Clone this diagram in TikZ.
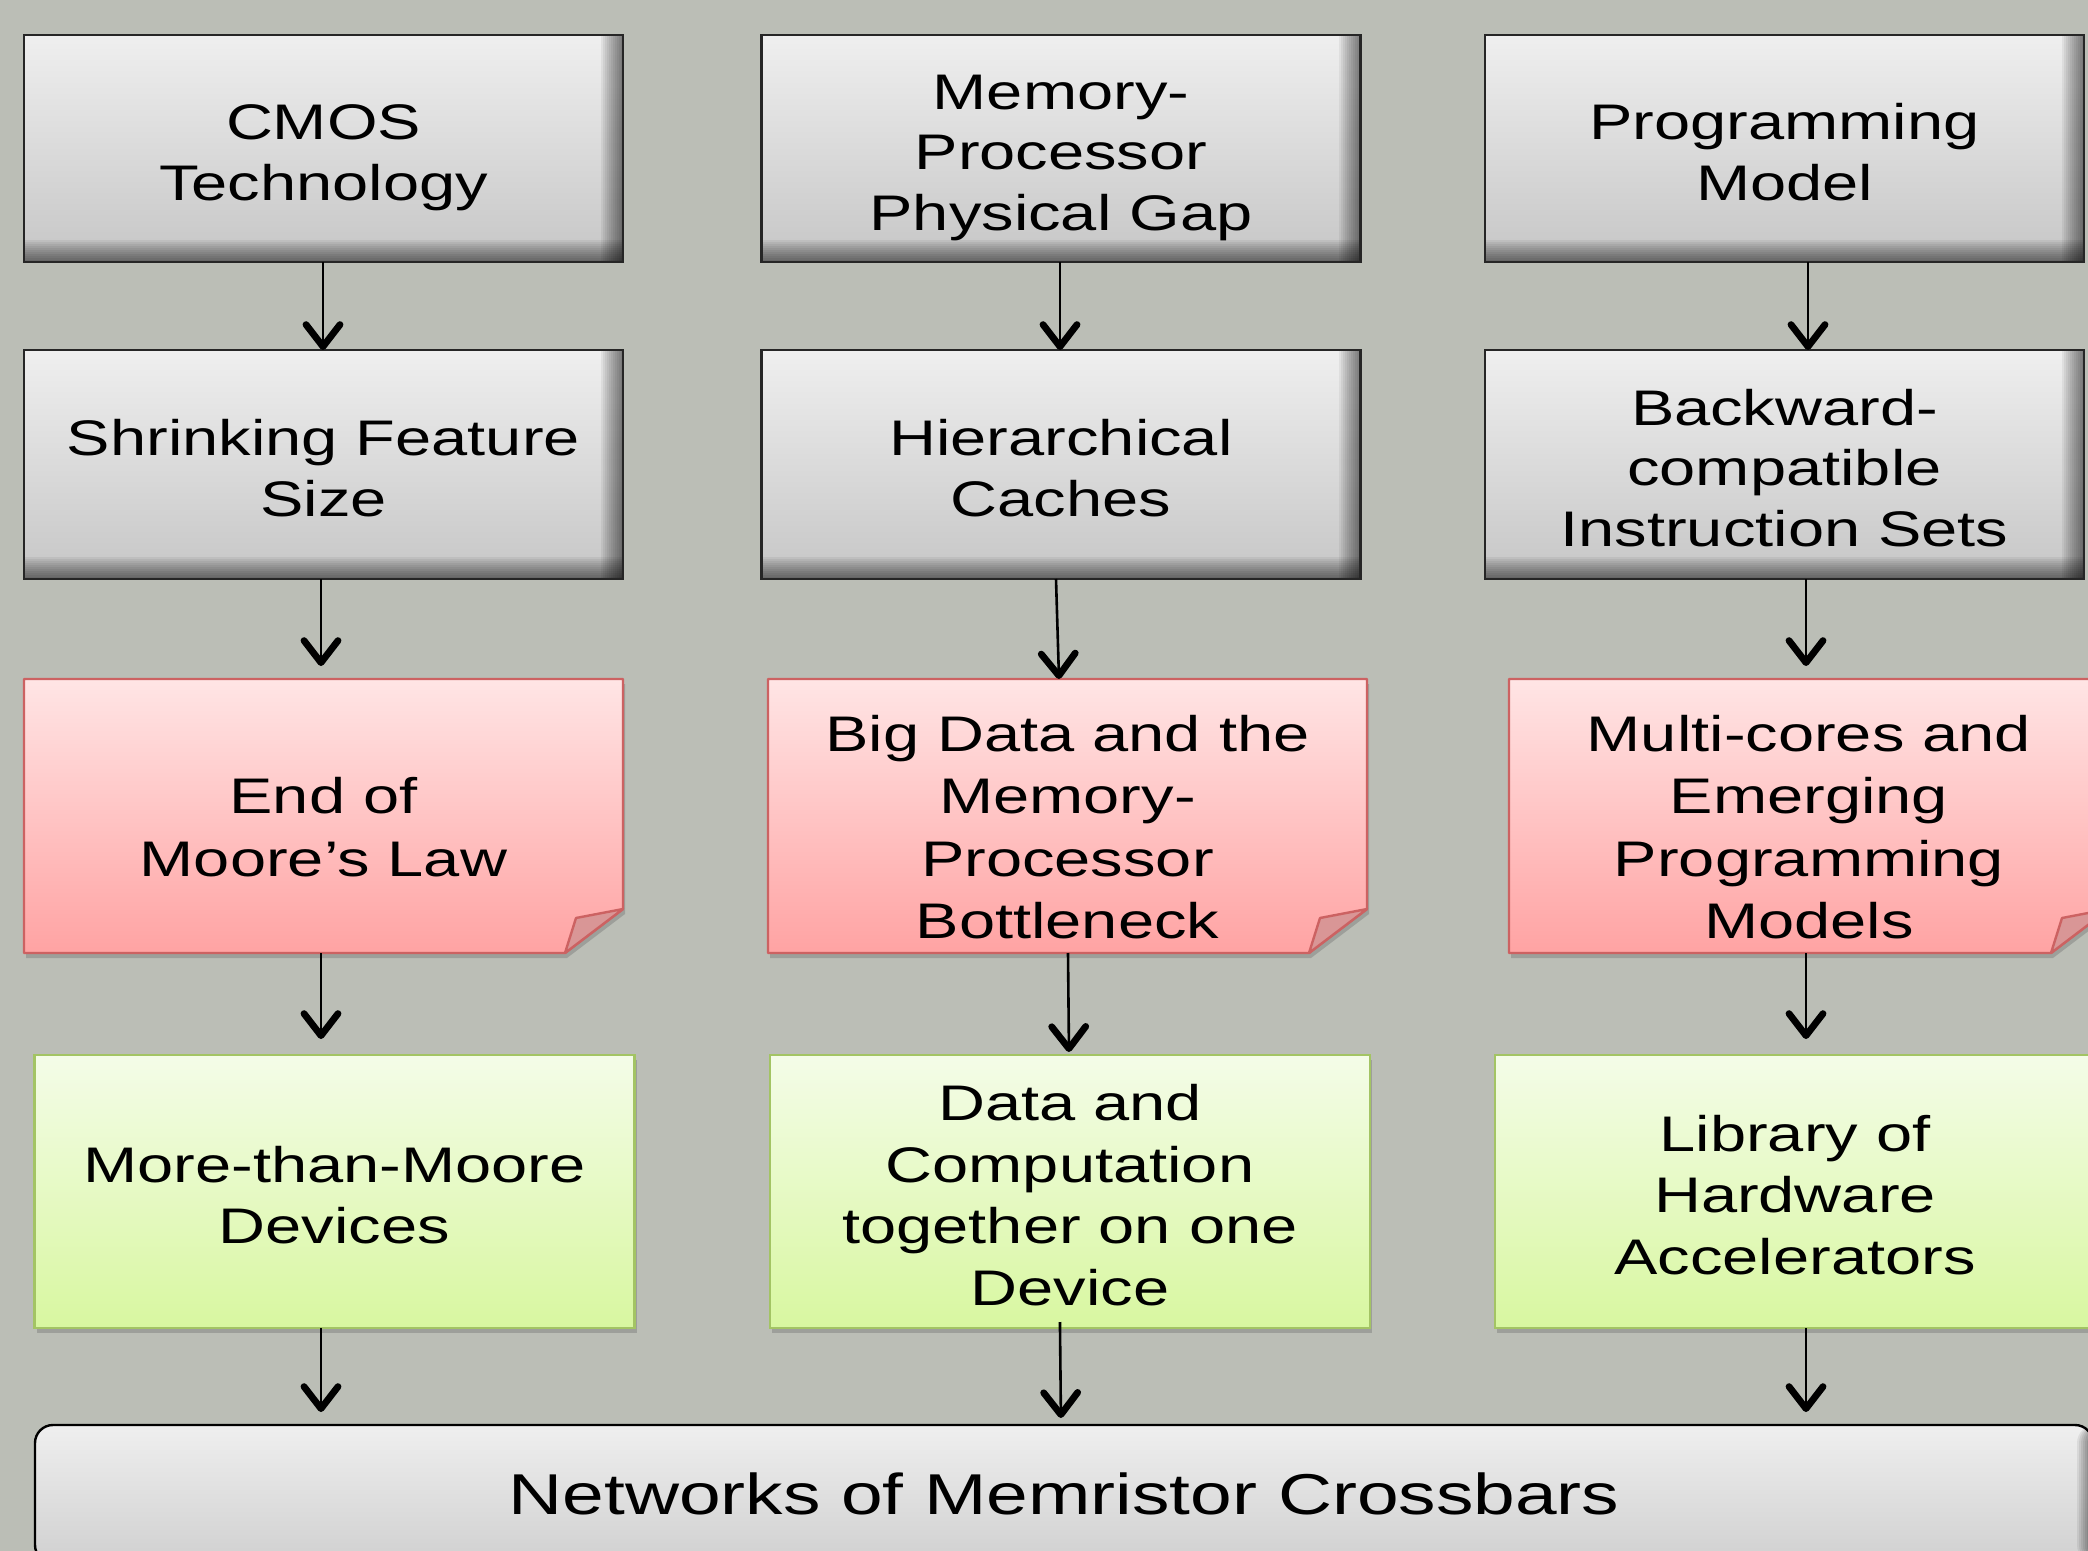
\documentclass[tikz,border=0pt]{standalone}
\usepackage{fontspec}
\newfontfamily\boxfont[FakeStretch=1.3]{Liberation Sans}
\usetikzlibrary{arrows.meta,shadows}
\definecolor{bg}{HTML}{BBBEB6}
\definecolor{gtop}{HTML}{EFEFEF}
\definecolor{gbot}{HTML}{C6C6C6}
\definecolor{gline}{HTML}{262626}
\definecolor{rtop}{HTML}{FFE5E5}
\definecolor{rbot}{HTML}{FFA3A3}
\definecolor{rline}{HTML}{CC6262}
\definecolor{rfold}{HTML}{D99696}
\definecolor{grtop}{HTML}{F4FCE8}
\definecolor{grbot}{HTML}{D8F7A0}
\definecolor{grline}{HTML}{A3C464}
\definecolor{btop}{HTML}{EFEFEF}
\definecolor{bbot}{HTML}{D0D0D0}
% struts that fix where the text block sits in its box
\newcommand\FirstA{\rule{0pt}{27.4pt}}
\newcommand\FirstR{\rule{0pt}{35pt}}
\newcommand\LastB{\rule[-6pt]{0pt}{6pt}}
\newcommand\redshape[4]{%
  \shade[top color=rtop, bottom color=rbot, draw=rline, line width=1.2pt, line join=round,
    drop shadow={shadow xshift=1pt, shadow yshift=-2.5pt, fill=black!60, opacity=0.35}]
    (#1,-#2) -- (#3,-#2) -- (#3,-#4+44) -- (#3-58,-#4) -- (#1,-#4) -- cycle;
  \filldraw[fill=rfold, draw=rline, line width=1.2pt, line join=round]
    (#3,-#4+44) -- (#3-47,-#4+35) -- (#3-58,-#4) -- cycle;
}
\tikzset{
  boxtxt/.style={font=\boxfont\fontsize{25}{30.3}\selectfont, align=center, inner sep=0pt, outer sep=0pt, text=black},
  bevel/.style={path picture={
    \foreach \k in {1,...,11} {
      \fill[black, fill opacity=0.055]
        ([xshift=-\k pt]path picture bounding box.north east) rectangle (path picture bounding box.south east);
      \fill[black, fill opacity=0.055]
        ([yshift=\k pt]path picture bounding box.south west) rectangle (path picture bounding box.south east);
    }
  }},
  gbox/.style={boxtxt, rectangle, draw=gline, line width=1.1pt, top color=gtop, bottom color=gbot,
    minimum width=299.5pt, bevel},
  rnode/.style={boxtxt, font=\boxfont\fontsize{25}{31.3}\selectfont, rectangle, draw=none,
    minimum width=300pt, minimum height=137pt},
  grbox/.style={boxtxt, font=\boxfont\fontsize{25}{30.8}\selectfont, rectangle, draw=grline, line width=1.1pt,
    top color=grtop, bottom color=grbot, minimum width=300pt, minimum height=136.5pt,
    drop shadow={shadow xshift=1pt, shadow yshift=-2.5pt, fill=black!60, opacity=0.35}},
  basebox/.style={boxtxt, font=\boxfont\fontsize{28.8}{34}\selectfont, rectangle, rounded corners=9pt,
    draw=black, line width=1.2pt, top color=btop, bottom color=bbot,
    minimum width=1029pt, minimum height=69pt, path picture={
    \foreach \k in {1,...,8} {
      \fill[black, fill opacity=0.07]
        ([xshift=-\k pt]path picture bounding box.north east) rectangle (path picture bounding box.south east);
    }}},
  arr/.style={line width=1.3pt, -{Straight Barb[length=11pt, width=17pt, line width=3.4pt, round]}},
}
\begin{document}
\begin{tikzpicture}[x=0.5pt,y=0.5pt]
\useasboundingbox (0,0) rectangle (2088,-1551);
\clip (0,0) rectangle (2088,-1551);
\fill[bg] (0,0) rectangle (2088,-1551);

% row 1
\node[gbox, minimum height=113.5pt] (g11) at (323.5,-148.5) {\FirstA CMOS\\Technology\LastB};
\node[gbox, minimum height=113.5pt] (g12) at (1061,-148.5) {\FirstA Memory-\\Processor\\Physical Gap\LastB};
\node[gbox, minimum height=113.5pt] (g13) at (1784.5,-148.5) {\FirstA Programming\\Model\LastB};
% row 2
\node[gbox, minimum height=114.5pt] (g21) at (323.5,-464.5) {\FirstA Shrinking Feature\\Size\LastB};
\node[gbox, minimum height=114.5pt] (g22) at (1061,-464.5) {\FirstA Hierarchical\\Caches\LastB};
\node[gbox, minimum height=114.5pt] (g23) at (1784.5,-464.5) {\FirstA Backward-\\compatible\\Instruction Sets\LastB};
% row 3
\redshape{24}{679}{623}{953}
\redshape{768}{679}{1367}{953}
\redshape{1509}{679}{2109}{953}
\node[rnode] (r1) at (323.5,-816) {\FirstR End of\\Moore’s Law\LastB};
\node[rnode] (r2) at (1067.5,-816) {\FirstR Big Data and the\\Memory-\\Processor\\Bottleneck\LastB};
\node[rnode] (r3) at (1809,-816) {\FirstR Multi-cores and\\Emerging\\Programming\\Models\LastB};
% row 4
\node[grbox] (n1) at (334.5,-1191.5) {\FirstA More-than-Moore\\Devices\LastB};
\node[grbox] (n2) at (1070,-1191.5) {\FirstA Data and\\Computation\\together on one\\Device\LastB};
\node[grbox] (n3) at (1795,-1191.5) {\FirstA Library of\\Hardware\\Accelerators\LastB};
% bottom
\node[basebox] (base) at (1064,-1494) {Networks of Memristor Crossbars};

% arrow columns
\coordinate (xa1) at (323,0);
\coordinate (xa) at (321,0);
\coordinate (xb1) at (1060,0);
\coordinate (xb2s) at (1056,0);
\coordinate (xb2e) at (1059,0);
\coordinate (xb3s) at (1068,0);
\coordinate (xb3e) at (1069,0);
\coordinate (xb4s) at (1060,0);
\coordinate (xb4e) at (1061,0);
\coordinate (xc1) at (1808,0);
\coordinate (xc) at (1806,0);

\draw[arr] (g11.south -| xa1) -- (g21.north -| xa1);
\draw[arr, shorten >=6.5pt] (g21.south -| xa) -- (r1.north -| xa);
\draw[arr, shorten >=8pt] (r1.south -| xa) -- (n1.north -| xa);
\draw[arr, shorten >=6.5pt] (n1.south -| xa) -- (base.north -| xa);

\draw[arr] (g12.south -| xb1) -- (g22.north -| xb1);
\draw[arr] (g22.south -| xb2s) -- (r2.north -| xb2e);
\draw[arr, shorten >=1.5pt] (r2.south -| xb3s) -- (n2.north -| xb3e);
\draw[arr, shorten <=-3pt, shorten >=3.5pt] (n2.south -| xb4s) -- (base.north -| xb4e);

\draw[arr] (g13.south -| xc1) -- (g23.north -| xc1);
\draw[arr, shorten >=6.5pt] (g23.south -| xc) -- (r3.north -| xc);
\draw[arr, shorten >=8pt] (r3.south -| xc) -- (n3.north -| xc);
\draw[arr, shorten >=6.5pt] (n3.south -| xc) -- (base.north -| xc);
\end{tikzpicture}
\end{document}
